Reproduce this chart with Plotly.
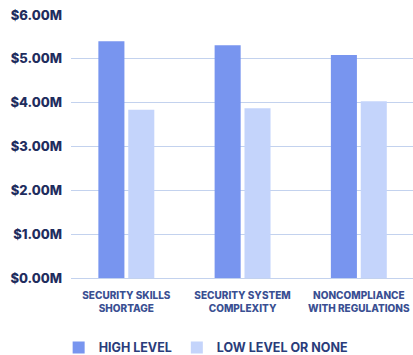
import plotly.graph_objects as go

categories = ["SECURITY SKILLS<br>SHORTAGE", "SECURITY SYSTEM<br>COMPLEXITY", "NONCOMPLIANCE<br>WITH REGULATIONS"]
high_level = [5.40, 5.31, 5.09]
low_level = [3.84, 3.87, 4.03]
y_ticks = [0, 1, 2, 3, 4, 5, 6]
y_tick_labels = ["$0.00M", "$1.00M", "$2.00M", "$3.00M", "$4.00M", "$5.00M", "$6.00M"]

x = list(range(len(categories)))

fig = go.Figure()
fig.add_trace(go.Bar(x=x, y=high_level, name="HIGH LEVEL", marker_color="#7895EF",
                     marker_line_width=0))
fig.add_trace(go.Bar(x=x, y=low_level, name="LOW LEVEL OR NONE", marker_color="#C4D4FB",
                     marker_line_width=0))

fig.update_layout(
    width=413, height=355,
    margin=dict(l=71, r=0, t=15, b=77, autoexpand=False),
    paper_bgcolor="white", plot_bgcolor="white",
    barmode="group", bargap=0.486, bargroupgap=0.128,
    font=dict(family="Inter", color="#1F2D5E"),
    showlegend=True,
    legend=dict(orientation="h", xref="container", yref="container",
                x=0.142, xanchor="left", y=0.02, yanchor="middle",
                font=dict(size=12.5, color="#2A3C7A", family="Inter", weight=700),
                itemsizing="constant", tracegroupgap=0),
    xaxis=dict(range=[-0.476, 2.466], tickmode="array", tickvals=x, ticktext=categories,
               tickfont=dict(size=10, color="#3A4F92", family="Inter", weight=800),
               showgrid=False, zeroline=False, showline=False, ticks="",
               ticklabelstandoff=10),
    yaxis=dict(range=[0, 6], tickmode="array", tickvals=y_ticks, ticktext=y_tick_labels,
               tickfont=dict(size=13, color="#1F2D5E", family="Inter", weight=800),
               showgrid=True, gridcolor="#C3D2EE", gridwidth=1,
               zeroline=True, zerolinecolor="#C3D2EE", zerolinewidth=1,
               showline=False, ticks="", ticklabelstandoff=8),
)

fig.write_html("out.html")
